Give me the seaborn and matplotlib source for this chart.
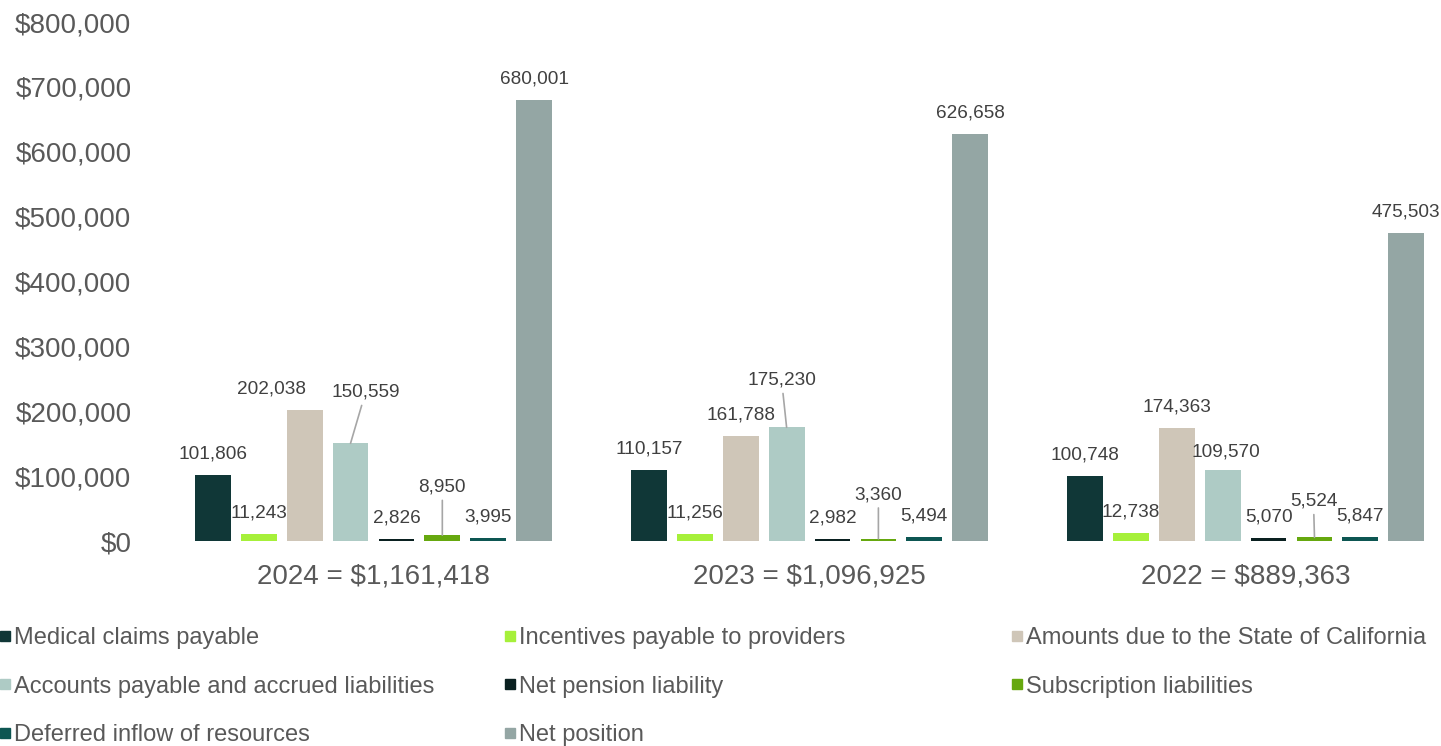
import matplotlib
matplotlib.use("Agg")
import matplotlib.pyplot as plt
from matplotlib.lines import Line2D
import seaborn as sns
import pandas as pd

# ---------------- data ----------------
years = ["2024", "2023", "2022"]
totals = ["$1,161,418", "$1,096,925", "$889,363"]
series = [
    "Medical claims payable",
    "Incentives payable to providers",
    "Amounts due to the State of California",
    "Accounts payable and accrued liabilities",
    "Net pension liability",
    "Subscription liabilities",
    "Deferred inflow of resources",
    "Net position",
]
medical_claims = [101806, 110157, 100748]
incentives = [11243, 11256, 12738]
amounts_due_state = [202038, 161788, 174363]
accounts_payable = [150559, 175230, 109570]
net_pension = [2826, 2982, 5070]
subscription = [8950, 3360, 5524]
deferred_inflow = [3995, 5494, 5847]
net_position = [680001, 626658, 475503]
y_ticks = [0, 100000, 200000, 300000, 400000, 500000, 600000, 700000, 800000]

colors = ["#103737", "#A6F03A", "#CFC6B8", "#AECBC5",
          "#0A2020", "#66A80F", "#0D5652", "#94A6A4"]

values = [medical_claims, incentives, amounts_due_state, accounts_payable,
          net_pension, subscription, deferred_inflow, net_position]
cats = [f"{y} = {t}" for y, t in zip(years, totals)]
rows = []
for s, vals in zip(series, values):
    for c, v in zip(cats, vals):
        rows.append({"category": c, "series": s, "value": v})
df = pd.DataFrame(rows)

# label placement tweaks (pixels: dx, dy of label centre above bar top, leader line)
label_adjust = {
    (0, 2): (-33, 21, False),
    (0, 3): (15, 51, True),
    (0, 5): (0, 48, True),
    (1, 3): (-5, 47, True),
    (1, 5): (0, 44, True),
    (2, 5): (-1, 36, True),
    (2, 3): (3, 18, False),
}

# ---------------- plot ----------------
sns.set_style("white")
plt.rcParams["font.family"] = ["Liberation Sans", "DejaVu Sans"]

fig = plt.figure(figsize=(14.41, 7.46), dpi=100)
ax = fig.add_axes([155 / 1441, (746 - 541) / 746, 1 - 155 / 1441, (541 - 22) / 746])

sns.barplot(data=df, x="category", y="value", hue="series", hue_order=series,
            order=cats, palette=colors, saturation=1, width=0.842, gap=0.22,
            linewidth=0, legend=False, ax=ax)

ax.set_xlim(-0.501, 2.448)
ax.set_ylim(0, 800000)
ax.set_yticks(y_ticks)
ax.set_yticklabels([f"${v:,.0f}" for v in y_ticks])
ax.set_xlabel("")
ax.set_ylabel("")
for sp in ax.spines.values():
    sp.set_visible(False)
ax.tick_params(axis="y", length=0, pad=17, labelsize=20, labelcolor="#595959")
ax.tick_params(axis="x", length=0, pad=16.5, labelsize=20, labelcolor="#595959")

# data labels
for si, cont in enumerate(ax.containers):
    for ci, bar in enumerate(cont):
        h = bar.get_height()
        xc = bar.get_x() + bar.get_width() / 2
        dx, dy, leader = label_adjust.get((ci, si), (0, 21, False))
        kw = {}
        if leader:
            kw["arrowprops"] = dict(arrowstyle="-", color="#A6A6A6", lw=1.2,
                                    shrinkA=1, shrinkB=0)
        ax.annotate(f"{h:,.0f}", xy=(xc, h), xytext=(dx, dy),
                    textcoords="offset pixels", ha="center", va="center",
                    fontsize=13.7, color="#404040", **kw)

# legend: three columns, row-major order
handles = [Line2D([], [], marker="s", linestyle="", markersize=7.6,
                  color=c) for c in colors]
col_x = [0 / 1441, 505 / 1441, 1012 / 1441]
for col in range(3):
    idx = [i for i in range(len(series)) if i % 3 == col]
    leg = fig.legend([handles[i] for i in idx], [series[i] for i in idx],
                     loc="upper left", bbox_to_anchor=(col_x[col], 1 - 627 / 746),
                     frameon=False, fontsize=17, labelcolor="#595959",
                     handlelength=0.45, handletextpad=0.15, labelspacing=1.13,
                     borderpad=0, borderaxespad=0)

fig.savefig("out.png", dpi=100)
